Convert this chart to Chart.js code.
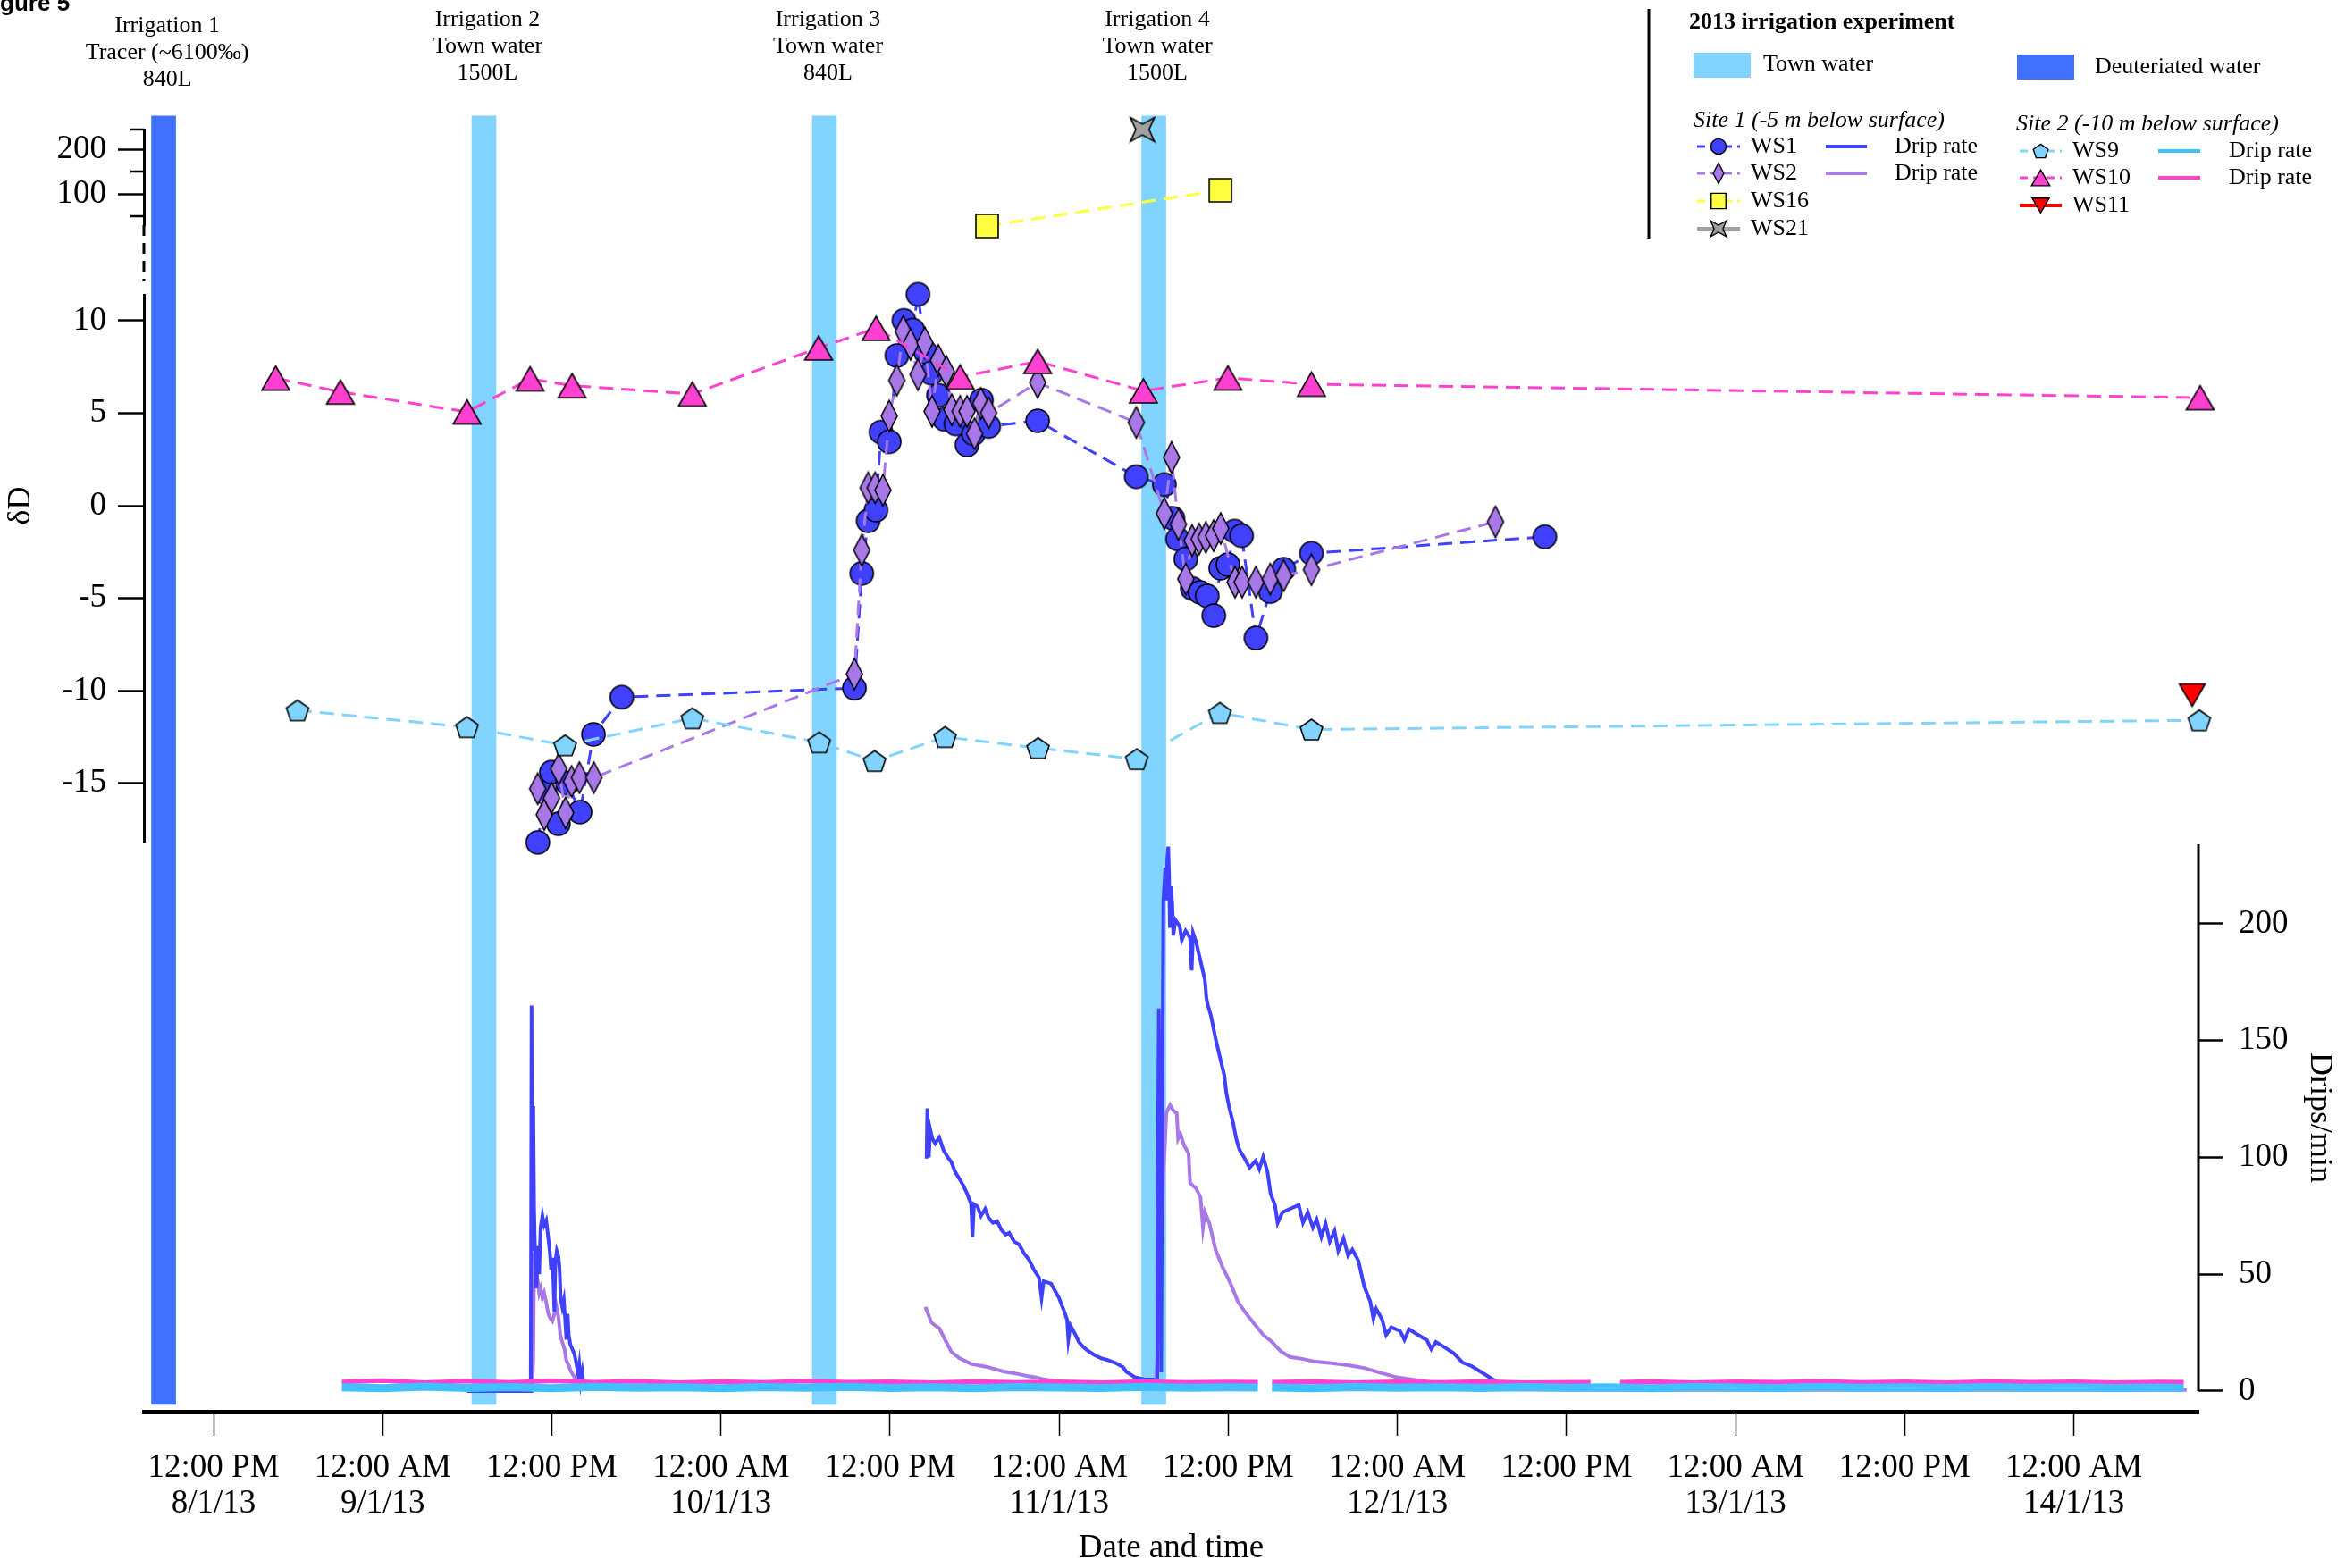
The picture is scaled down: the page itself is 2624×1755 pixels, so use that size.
<!DOCTYPE html>
<html>
<head>
<meta charset="utf-8">
<title>Figure 5 - 2013 irrigation experiment</title>
<script src="https://cdn.jsdelivr.net/npm/chart.js@4.4.1/dist/chart.umd.min.js"></script>
<style>
  html, body { margin: 0; padding: 0; background: #fff; }
  canvas { display: block; }
</style>
</head>
<body>
<canvas id="fig" width="2624" height="1755"></canvas>
<script>
// time axis is in hours counted from 8/1/13 00:00
const tickHours = [12, 24, 36, 48, 60, 72, 84, 96, 108, 120, 132, 144];
const tickTimes = ['12:00 PM', '12:00 AM', '12:00 PM', '12:00 AM', '12:00 PM', '12:00 AM',
                   '12:00 PM', '12:00 AM', '12:00 PM', '12:00 AM', '12:00 PM', '12:00 AM'];
const tickDates = ['8/1/13', '9/1/13', '', '10/1/13', '', '11/1/13', '', '12/1/13', '', '13/1/13', '', '14/1/13'];

const lowerTicks = [10, 5, 0, -5, -10, -15];
const upperTicks = [200, 100];
const upperMinorTicks = [244, 150, 50];
const dripTicks = [0, 50, 100, 150, 200];

// irrigation events
const irrigationHours = [8.45, 31.18, 55.34, 78.71];
const irrigationKind = ['deuteriated', 'town', 'town', 'town'];
const irrigationNames = ['Irrigation 1', 'Irrigation 2', 'Irrigation 3', 'Irrigation 4'];
const irrigationWater = ['Tracer (~6100\u2030)', 'Town water', 'Town water', 'Town water'];
const irrigationVolumes = ['840L', '1500L', '840L', '1500L'];

// δD samples [hour, value]
const ws1 = [[35.0,-18.2],[35.5,-15.5],[35.97,-14.4],[36.46,-17.2],[37.1,-15.0],[38.0,-16.56],[38.95,-12.36],
  [40.96,-10.35],[57.47,-9.86],[57.99,-3.66],[58.44,-0.82],[59.0,-0.24],[59.35,3.98],[59.94,3.46],[60.48,8.12],
  [60.98,10.02],[61.61,9.5],[61.98,11.43],[62.52,8.3],[62.92,7.17],[63.43,5.97],[63.87,4.67],[64.67,4.42],
  [65.46,3.29],[65.92,3.89],[66.48,5.71],[67.0,4.29],[70.47,4.59],[77.47,1.57],[79.46,1.14],[80.07,-0.68],
  [80.4,-1.8],[80.98,-2.88],[81.44,-4.47],[82.0,-4.68],[82.5,-4.87],[82.97,-5.94],[83.46,-3.38],[83.97,-3.18],
  [84.44,-1.37],[84.94,-1.62],[85.96,-7.15],[86.98,-4.64],[87.93,-3.43],[89.9,-2.57],[106.46,-1.68]];
const ws2 = [[34.99,-15.3],[35.46,-16.7],[35.98,-15.8],[36.49,-14.23],[36.97,-16.6],[37.4,-14.9],[37.96,-14.7],
  [38.98,-14.7],[57.47,-9.1],[57.99,-2.4],[58.44,0.97],[58.94,0.97],[59.49,0.84],[59.94,4.85],[60.48,6.78],
  [60.93,9.42],[61.45,8.72],[61.98,7.09],[62.47,8.81],[62.98,5.1],[63.43,7.86],[63.99,7.26],[64.38,5.19],
  [64.97,5.1],[65.46,5.1],[65.99,3.89],[66.44,5.54],[67.0,5.02],[70.47,6.66],[77.47,4.5],[79.46,-0.42],
  [79.97,2.61],[80.46,-1.01],[80.98,-3.96],[81.43,-1.88],[81.93,-1.8],[82.41,-1.71],[82.95,-1.62],[83.46,-1.23],
  [84.48,-4.13],[84.98,-4.13],[85.96,-4.13],[86.98,-3.96],[87.93,-3.78],[89.9,-3.46],[102.96,-0.87]];
const ws16 = [[66.88,28],[83.44,108]];
const ws21 = [[77.9,244]];
const ws9 = [[17.95,-11.06],[29.98,-11.97],[36.94,-12.95],[45.97,-11.49],[54.97,-12.79],[58.9,-13.8],
  [63.9,-12.5],[70.5,-13.1],[77.5,-13.7],[83.4,-11.2],[89.9,-12.1],[152.9,-11.6]];
const ws10 = [[16.4,6.9],[21.0,6.15],[29.98,5.07],[34.45,6.86],[37.43,6.49],[45.97,6.04],[54.93,8.53],
  [59.0,9.59],[64.97,6.96],[70.47,7.8],[77.97,6.21],[83.97,6.91],[89.9,6.57],[152.96,5.84]];
const ws11 = [[152.4,-10.24]];

// drip rates [hour, drips/min], null = logger gap
const ws1Drip = [[30.0,0],[34.5,0],[34.56,165],[34.62,60],[34.68,122],[34.74,78],[34.82,55],[34.9,44],[35.0,62],
  [35.1,50],[35.2,70],[35.33,75],[35.45,71],[35.6,73],[35.7,68],[35.85,60],[35.95,52],[36.03,57],[36.12,45],
  [36.18,34],[36.25,55],[36.35,60],[36.46,58],[36.55,52],[36.62,40],[36.74,36],[36.85,39],[36.95,30],[37.03,22],
  [37.12,33],[37.2,24],[37.31,20],[37.45,18],[37.59,16],[37.7,13],[37.87,7],[37.95,11],[38.05,4],[38.16,8],
  [38.3,0],[50.0,null],
  [62.59,99.5],[62.64,121],[62.7,110],[62.75,100],[62.85,112],[63.0,108],[63.2,106],[63.49,108.5],[63.8,103],
  [64.1,100],[64.35,98],[64.6,94],[64.9,91],[65.2,88],[65.5,84],[65.75,80],[65.85,66],[65.95,80],[66.2,79],
  [66.45,75],[66.75,78],[67.0,74],[67.3,72],[67.6,72.7],[67.9,69],[68.2,67],[68.45,67.7],[68.8,64],[69.16,62.7],
  [69.5,59],[69.86,56.2],[70.2,52],[70.57,48.6],[70.75,40],[70.9,47],[71.42,46],[71.7,43],[71.99,39.8],[72.3,35],
  [72.56,30.6],[72.65,22],[72.8,28],[73.12,24.5],[73.4,21],[73.69,19],[74.1,17],[74.54,15.3],[75.0,14],
  [75.39,13.4],[76.0,12],[76.52,10.3],[76.74,8.4],[77.38,5.9],[78.0,5.1],[78.64,5],[78.9,4],[78.96,60],
  [79.07,163.7],[79.15,100],[79.24,8],[79.3,100],[79.39,209.6],[79.53,224],[79.6,210],[79.67,228],[79.74,233],
  [79.8,220],[79.85,199],[79.91,216],[80.02,209],[80.1,195],[80.23,201.7],[80.55,199],[80.7,193],[80.97,197],
  [81.29,194],[81.4,180],[81.5,196],[81.71,192.3],[82.03,184],[82.34,176],[82.45,168],[82.56,165],[82.77,160.6],
  [83.09,151],[83.4,143],[83.72,135],[83.85,128],[84.04,122],[84.35,114.5],[84.56,108],[84.78,103.4],
  [85.09,100.3],[85.51,95.6],[85.94,98.6],[86.2,95],[86.47,100.2],[86.78,93.9],[87.0,84.5],[87.31,79.6],
  [87.5,72],[87.84,76.5],[88.37,78],[89.0,79.6],[89.3,72],[89.64,76.5],[90.0,70],[90.27,73.4],[90.6,66],
  [90.9,71.7],[91.2,64],[91.54,68.5],[91.8,60],[92.17,65.4],[92.5,58],[92.8,60.6],[93.23,55.8],[93.65,44.7],
  [94.07,38.4],[94.3,31],[94.5,35.2],[94.92,30.6],[95.2,24],[95.56,27.3],[96.19,25.7],[96.5,22],[96.82,26.5],
  [97.46,24.1],[98.09,21.8],[98.4,18],[98.73,21],[99.36,18.7],[99.99,16.2],[100.63,12.2],[101.26,10.7],
  [101.9,8.3],[102.53,5.9],[103.17,3.6],[103.58,1.9],[104.64,1.1],[106.4,1.0]];
const ws2Drip = [[30.0,0],[34.6,0],[34.68,14],[34.75,59],[34.82,45],[34.9,51],[35.0,47],[35.1,42],[35.2,44],
  [35.33,40],[35.45,42],[35.6,38],[35.75,33],[35.9,31],[36.03,30],[36.18,33],[36.3,37],[36.46,32],[36.6,24],
  [36.74,21],[36.9,18],[37.03,13],[37.2,11],[37.31,9],[37.5,7],[37.7,5],[37.87,4],[38.16,3],[38.5,1.5],[50.0,null],
  [62.5,36],[62.7,33],[62.93,29.4],[63.2,28],[63.49,26.9],[63.92,21.8],[64.35,16.8],[64.91,14.1],[65.3,13],
  [65.76,11.6],[66.3,11],[66.89,10.3],[67.4,9.5],[68.02,8.4],[68.6,7.8],[69.16,7.2],[69.7,6.5],[70.29,5.9],
  [70.8,5.2],[71.42,4.6],[72.27,3.4],[73.5,2],[75.0,1.5],[77.0,1.2],[78.6,1.5],[78.86,5],[79.2,40],[79.39,94],
  [79.5,105],[79.6,119],[79.87,122.4],[80.1,120],[80.34,119],[80.44,108],[80.6,110],[80.87,105],[81.18,101.8],
  [81.29,89],[81.71,86.8],[82.03,82.8],[82.2,70],[82.34,76.5],[82.66,71.7],[83.09,60.6],[83.61,52.8],
  [84.14,46.3],[84.67,38.4],[85.2,33.7],[85.83,28.9],[86.47,24.1],[87.1,21],[87.73,17],[88.37,14.6],
  [89.22,13.8],[90.06,12.7],[91.33,11.9],[92.6,11],[93.65,9.9],[94.71,8],[95.98,5.9],[97.25,4.8],[98.51,3.6],
  [99.99,1.9],[101.47,0.8],[110.0,0.5],[130.0,0.5],[152.0,0.5]];
const ws9Drip = [[21.1,1.6],[24,1.2],[27,1.9],[30,1.3],[33,1.7],[36,1.2],[39,1.8],[42,1.4],[45,1.6],[48,1.2],
  [51,1.7],[54,1.4],[57,1.8],[60,1.3],[63,1.6],[66,1.2],[69,1.7],[72,1.5],[75,1.3],[78,1.8],[81,1.4],[84,1.6],
  [86.1,1.5],[86.6,null],[87.1,1.5],[90,1.2],[93,1.7],[96,1.4],[99,1.6],[102,1.3],[105,1.7],[108,1.4],[111,1.6],
  [114,1.2],[117,1.7],[120,1.5],[123,1.3],[126,1.8],[129,1.4],[132,1.6],[135,1.3],[138,1.7],[141,1.4],[144,1.6],
  [147,1.3],[150,1.5],[151.8,1.4]];
const ws10Drip = [[21.1,3.9],[24,4.5],[27,3.6],[30,4.3],[33,3.7],[36,4.4],[39,3.8],[42,4.2],[45,3.6],[48,4.1],
  [51,3.7],[54,4.3],[57,3.8],[60,4.0],[63,3.6],[66,4.1],[69,3.7],[72,4.0],[75,3.6],[78,4.1],[81,3.7],[84,3.9],
  [86.1,3.8],[86.6,null],[87.1,3.8],[90,4.1],[93,3.6],[96,4.0],[99,3.7],[102,4.1],[105,3.6],[109.7,3.8],
  [110.7,null],[111.8,3.8],[114,4.1],[117,3.6],[120,4.0],[123,3.8],[126,4.2],[129,3.7],[132,4.0],[135,3.6],
  [138,4.1],[141,3.8],[144,4.0],[147,3.6],[150,3.9],[151.8,3.8]];

const SERIF = '"Liberation Serif", "Times New Roman", serif';

const waterColors = { town: '#80D4FF', deuteriated: '#4070FF' };
const seriesStyle = {
  WS1:  { color: '#4040FF', shape: 'circle',       w: 26, h: 26 },
  WS2:  { color: '#A878E8', shape: 'diamond',      w: 18, h: 35 },
  WS16: { color: '#FFFF40', shape: 'square',       w: 25, h: 26 },
  WS21: { color: '#A0A0A0', shape: 'star4',        w: 27, h: 27, solid: true },
  WS9:  { color: '#80D4FF', shape: 'pentagon',     w: 25, h: 23 },
  WS10: { color: '#FF40D0', shape: 'triangle',     w: 31, h: 27 },
  WS11: { color: '#FF0000', shape: 'triangleDown', w: 29, h: 25, solid: true }
};
const dripColors = { WS1: '#4040FF', WS2: '#A878E8', WS9: '#40C0FF', WS10: '#FF40D0' };

function traceShape(g, shape, cx, cy, w, h) {
  const hw = w / 2, hh = h / 2;
  g.beginPath();
  if (shape === 'circle') {
    g.ellipse(cx, cy, hw, hh, 0, 0, Math.PI * 2);
  } else if (shape === 'square') {
    g.rect(cx - hw, cy - hh, w, h);
  } else {
    let pts = [];
    if (shape === 'diamond') pts = [[0, -hh], [hw, 0], [0, hh], [-hw, 0]];
    else if (shape === 'triangle') pts = [[0, -hh], [hw, hh], [-hw, hh]];
    else if (shape === 'triangleDown') pts = [[-hw, -hh], [hw, -hh], [0, hh]];
    else if (shape === 'star4') pts = [[-hw, -hh], [0, -hh * 0.45], [hw, -hh], [hw * 0.55, 0],
                                       [hw, hh], [0, hh * 0.45], [-hw, hh], [-hw * 0.55, 0]];
    else if (shape === 'pentagon') {
      const rx = w / 1.902, ry = h / 1.809;
      for (let k = 0; k < 5; k++) {
        const a = -Math.PI / 2 + k * 2 * Math.PI / 5;
        pts.push([rx * Math.cos(a), ry * Math.sin(a) + 0.095 * ry]);
      }
    }
    pts.forEach(([px, py], i) => i ? g.lineTo(cx + px, cy + py) : g.moveTo(cx + px, cy + py));
  }
  g.closePath();
}

function markerCanvas(st) {
  const c = document.createElement('canvas');
  c.width = Math.round(st.w) + 4;
  c.height = Math.round(st.h) + 4;
  const g = c.getContext('2d');
  traceShape(g, st.shape, c.width / 2, c.height / 2, st.w, st.h);
  g.fillStyle = st.color;
  g.fill();
  g.lineWidth = 1.6;
  g.strokeStyle = '#000';
  g.stroke();
  return c;
}

const toXY = pts => pts.map(([x, y]) => ({ x, y }));

function markerSet(name, pts, axis) {
  const st = seriesStyle[name];
  return {
    type: 'scatter', label: name, data: toXY(pts), xAxisID: 'x', yAxisID: axis,
    pointStyle: markerCanvas(st), pointRadius: 13,
    showLine: true, borderColor: st.color, borderWidth: 3,
    borderDash: st.solid ? [] : [16, 9], clip: false, order: 1
  };
}

function dripSet(name, pts, width, order) {
  return {
    type: 'scatter', label: name + ' drip rate', data: toXY(pts), xAxisID: 'x', yAxisID: 'yDrip',
    showLine: true, pointRadius: 0, borderColor: dripColors[name], borderWidth: width,
    spanGaps: false, order: order
  };
}

const tickFont = { family: SERIF, size: 37, lineHeight: 1.08 };
const leftWidth = s => { s.width = 161; };
const rightWidth = s => { s.width = 164; };

const decorations = {
  id: 'decorations',
  afterDraw(chart) {
    const { ctx, scales } = chart;
    const { x, yUp, yGap, yLow, yDrip } = scales;
    ctx.save();
    ctx.strokeStyle = '#000';
    ctx.fillStyle = '#000';

    // broken part of the δD axis
    ctx.lineWidth = 3;
    ctx.setLineDash([12, 8]);
    ctx.beginPath();
    ctx.moveTo(yGap.right, yGap.top);
    ctx.lineTo(yGap.right, yGap.bottom - 15);
    ctx.stroke();
    ctx.setLineDash([]);

    ctx.lineWidth = 2.5;
    upperMinorTicks.forEach(v => {
      const py = yUp.getPixelForValue(v);
      ctx.beginPath();
      ctx.moveTo(yUp.right - 15, py);
      ctx.lineTo(yUp.right, py);
      ctx.stroke();
    });

    // drip rate axis line stops at zero
    ctx.lineWidth = 3;
    ctx.beginPath();
    ctx.moveTo(yDrip.left, yDrip.top);
    ctx.lineTo(yDrip.left, yDrip.getPixelForValue(0));
    ctx.stroke();

    // axis titles
    ctx.textAlign = 'center';
    ctx.textBaseline = 'middle';
    ctx.font = '36px ' + SERIF;
    ctx.save();
    ctx.translate(24, yLow.getPixelForValue(0));
    ctx.rotate(-Math.PI / 2);
    ctx.fillText('\u03b4D', 0, 0);
    ctx.restore();
    ctx.save();
    ctx.translate(2595, (yDrip.top + yDrip.getPixelForValue(0)) / 2);
    ctx.rotate(Math.PI / 2);
    ctx.fillText('Drips/min', 0, 0);
    ctx.restore();

    // irrigation annotations
    ctx.font = '26px ' + SERIF;
    irrigationHours.forEach((h, i) => {
      const px = x.getPixelForValue(h) + 4;
      const top = i === 0 ? 29 : 22;
      [irrigationNames[i], irrigationWater[i], irrigationVolumes[i]].forEach((t, k) => {
        ctx.fillText(t, px, top + k * 30);
      });
    });

    // figure label, cut by the page edge as in the original
    ctx.textAlign = 'left';
    ctx.textBaseline = 'alphabetic';
    ctx.font = 'bold 26px "Liberation Sans", Arial, sans-serif';
    ctx.fillText('Figure 5', -23, 12);

    drawLegend(ctx);
    ctx.restore();
  }
};

function legendRow(ctx, name, x0, x1, y, textX) {
  const st = seriesStyle[name];
  ctx.save();
  ctx.strokeStyle = st.color;
  ctx.lineWidth = st.solid ? 4 : 3;
  ctx.setLineDash(st.solid ? [] : [9, 6]);
  ctx.beginPath();
  ctx.moveTo(x0, y);
  ctx.lineTo(x1, y);
  ctx.stroke();
  ctx.restore();
  traceShape(ctx, st.shape, (x0 + x1) / 2, y, st.w * 0.66, st.h * 0.66);
  ctx.fillStyle = st.color;
  ctx.fill();
  ctx.lineWidth = 1.4;
  ctx.strokeStyle = '#000';
  ctx.stroke();
  ctx.fillStyle = '#000';
  ctx.fillText(name, textX, y);
}

function legendDrip(ctx, name, x0, x1, y, textX) {
  ctx.save();
  ctx.strokeStyle = dripColors[name];
  ctx.lineWidth = 4;
  ctx.beginPath();
  ctx.moveTo(x0, y);
  ctx.lineTo(x1, y);
  ctx.stroke();
  ctx.restore();
  ctx.fillText('Drip rate', textX, y);
}

function drawLegend(ctx) {
  ctx.save();
  ctx.strokeStyle = '#000';
  ctx.lineWidth = 3;
  ctx.beginPath();
  ctx.moveTo(1845, 10);
  ctx.lineTo(1845, 267);
  ctx.stroke();

  ctx.fillStyle = '#000';
  ctx.textAlign = 'left';
  ctx.textBaseline = 'middle';
  ctx.font = 'bold 26px ' + SERIF;
  ctx.fillText('2013 irrigation experiment', 1890, 25);

  ctx.font = '26px ' + SERIF;
  ctx.fillStyle = waterColors.town;
  ctx.fillRect(1895, 59, 64, 28);
  ctx.fillStyle = waterColors.deuteriated;
  ctx.fillRect(2257, 61, 64, 28);
  ctx.fillStyle = '#000';
  ctx.fillText('Town water', 1973, 72);
  ctx.fillText('Deuteriated water', 2344, 75);

  ctx.font = 'italic 26px ' + SERIF;
  ctx.fillText('Site 1 (-5 m below surface)', 1895, 135);
  ctx.fillText('Site 2 (-10 m below surface)', 2256, 139);

  ctx.font = '26px ' + SERIF;
  legendRow(ctx, 'WS1', 1899, 1947, 164, 1959);
  legendRow(ctx, 'WS2', 1899, 1947, 194, 1959);
  legendRow(ctx, 'WS16', 1899, 1947, 225, 1959);
  legendRow(ctx, 'WS21', 1899, 1947, 256, 1959);
  legendDrip(ctx, 'WS1', 2043, 2089, 164, 2120);
  legendDrip(ctx, 'WS2', 2043, 2089, 194, 2120);

  legendRow(ctx, 'WS9', 2260, 2307, 169, 2319);
  legendRow(ctx, 'WS10', 2260, 2307, 199, 2319);
  legendRow(ctx, 'WS11', 2260, 2307, 230, 2319);
  legendDrip(ctx, 'WS9', 2415, 2462, 169, 2494);
  legendDrip(ctx, 'WS10', 2415, 2462, 199, 2494);
  ctx.restore();
}

Chart.defaults.color = '#000';
Chart.defaults.font.family = SERIF;

new Chart(document.getElementById('fig'), {
  type: 'scatter',
  data: {
    datasets: [
      markerSet('WS11', ws11, 'yLow'),
      markerSet('WS21', ws21, 'yUp'),
      markerSet('WS16', ws16, 'yUp'),
      markerSet('WS10', ws10, 'yLow'),
      markerSet('WS9', ws9, 'yLow'),
      markerSet('WS2', ws2, 'yLow'),
      markerSet('WS1', ws1, 'yLow'),
      dripSet('WS9', ws9Drip, 9, 2),
      dripSet('WS10', ws10Drip, 5, 3),
      dripSet('WS1', ws1Drip, 4, 4),
      dripSet('WS2', ws2Drip, 4, 5),
      {
        type: 'bar', label: 'Irrigation',
        data: irrigationHours.map(h => ({ x: h, y: [0.0056, 1.0105] })),
        xAxisID: 'x', yAxisID: 'y',
        backgroundColor: irrigationKind.map(k => waterColors[k]),
        barThickness: 27, grouped: false, borderWidth: 0, clip: false, order: 10
      }
    ]
  },
  options: {
    responsive: false,
    animation: false,
    devicePixelRatio: 1,
    events: [],
    layout: { padding: { top: 145, left: 0, right: 0, bottom: 0 } },
    plugins: { legend: { display: false }, tooltip: { enabled: false } },
    scales: {
      x: {
        type: 'linear', position: 'bottom', min: 7.05, max: 152.84, offset: false,
        afterBuildTicks: s => { s.ticks = tickHours.map(v => ({ value: v })); },
        afterFit: s => { s.height = 175; },
        ticks: {
          autoSkip: false, maxRotation: 0, padding: 16, font: tickFont,
          callback: (v, i) => tickDates[i] ? [tickTimes[i], tickDates[i]] : tickTimes[i]
        },
        grid: { offset: false, drawOnChartArea: false, tickLength: 27, tickWidth: 1.5, tickColor: '#000' },
        border: { color: '#000', width: 5 },
        title: { display: true, text: 'Date and time', font: { family: SERIF, size: 37, lineHeight: 1.2 },
                 padding: { top: 0, bottom: 0 } }
      },
      y: { type: 'linear', display: false, min: 0, max: 1 },
      yUp: {
        type: 'linear', position: 'left', stack: 'dD', stackWeight: 107, weight: 4,
        min: 30, max: 244, afterFit: leftWidth,
        afterBuildTicks: s => { s.ticks = upperTicks.map(v => ({ value: v })); },
        ticks: { autoSkip: false, padding: 13, font: tickFont, callback: v => String(v) },
        grid: { drawOnChartArea: false, tickLength: 29, tickWidth: 2.5, tickColor: '#000' },
        border: { color: '#000', width: 3 }
      },
      yGap: {
        type: 'linear', position: 'left', stack: 'dD', stackWeight: 78, weight: 3,
        display: false, afterFit: leftWidth
      },
      yLow: {
        type: 'linear', position: 'left', stack: 'dD', stackWeight: 612, weight: 2,
        min: -18.16, max: 11.4, afterFit: leftWidth,
        afterBuildTicks: s => { s.ticks = lowerTicks.map(v => ({ value: v })); },
        ticks: { autoSkip: false, padding: 13, font: tickFont, callback: v => String(v) },
        grid: { drawOnChartArea: false, tickLength: 29, tickWidth: 2.5, tickColor: '#000' },
        border: { color: '#000', width: 3 }
      },
      yPad: {
        type: 'linear', position: 'left', stack: 'dD', stackWeight: 638, weight: 1,
        display: false, afterFit: leftWidth
      },
      rPad: {
        type: 'linear', position: 'right', stack: 'drip', stackWeight: 800, weight: 0,
        display: false, afterFit: rightWidth
      },
      yDrip: {
        type: 'linear', position: 'right', stack: 'drip', stackWeight: 635, weight: 1,
        min: -8.8, max: 234, afterFit: rightWidth,
        afterBuildTicks: s => { s.ticks = dripTicks.map(v => ({ value: v })); },
        ticks: { autoSkip: false, padding: 18, crossAlign: 'near', font: tickFont, callback: v => String(v) },
        grid: { drawOnChartArea: false, tickLength: 27, tickWidth: 2.5, tickColor: '#000' },
        border: { display: false }
      }
    }
  },
  plugins: [decorations]
});
</script>
</body>
</html>
